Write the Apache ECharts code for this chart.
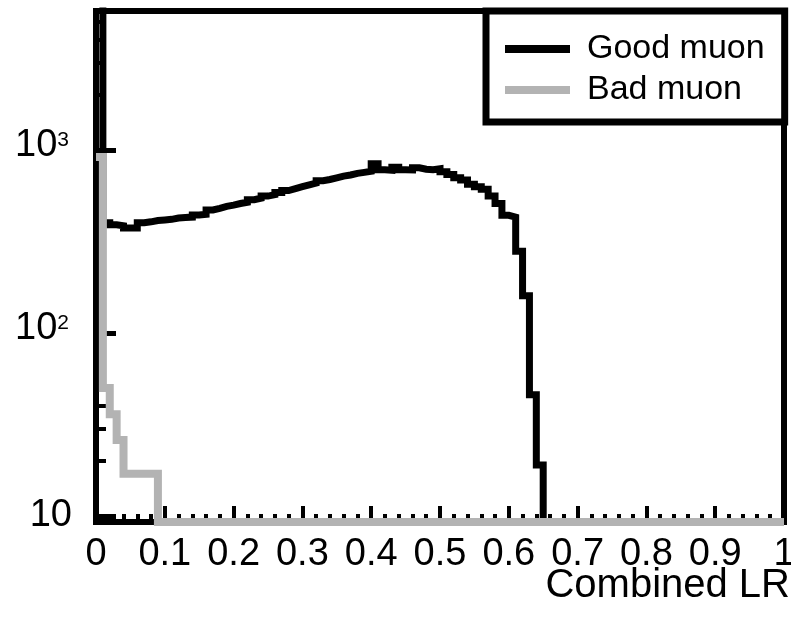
<!DOCTYPE html>
<html>
<head>
<meta charset="utf-8">
<script src="https://cdn.jsdelivr.net/npm/echarts@6/dist/echarts.min.js"></script>
<style>
  html, body { margin: 0; padding: 0; background: #fff; }
  #chart { width: 791px; height: 625px; }
</style>
</head>
<body>
<div id="chart"></div>
<script>
// Histogram binning of the combined likelihood ratio
const binWidth = 0.01;

// Counts per bin, starting at LR = 0
const goodMuon = [
  20000, 400, 390, 385, 375, 375, 400, 405, 412, 415,
  418, 425, 428, 430, 441, 445, 470, 480, 492, 500,
  510, 518, 535, 545, 560, 570, 585, 600, 615, 630,
  645, 660, 680, 690, 705, 720, 730, 745, 755, 765,
  840, 780, 775, 805, 780, 778, 800, 785, 780, 790,
  760, 735, 705, 685, 650, 630, 610, 560, 510, 440,
  430, 280, 160, 46, 19, 0, 0, 0, 0, 0,
  0, 0, 0, 0, 0, 0, 0, 0, 0, 0,
  0, 0, 0, 0, 0, 0, 0, 0, 0, 0,
  0, 0, 0, 0, 0, 0, 0, 0, 0, 0
];
const badMuon = [
  915, 50, 36, 26, 17, 17, 17, 17, 17, 0,
  0, 0, 0, 0, 0, 0, 0, 0, 0, 0,
  0, 0, 0, 0, 0, 0, 0, 0, 0, 0,
  0, 0, 0, 0, 0, 0, 0, 0, 0, 0,
  0, 0, 0, 0, 0, 0, 0, 0, 0, 0,
  0, 0, 0, 0, 0, 0, 0, 0, 0, 0,
  0, 0, 0, 0, 0, 0, 0, 0, 0, 0,
  0, 0, 0, 0, 0, 0, 0, 0, 0, 0,
  0, 0, 0, 0, 0, 0, 0, 0, 0, 0,
  0, 0, 0, 0, 0, 0, 0, 0, 0, 0
];

// Axis labels and tick positions
const xTickLabels = ['0', '0.1', '0.2', '0.3', '0.4', '0.5', '0.6', '0.7', '0.8', '0.9', '1'];
const yMajorTicks = [10, 100, 1000];
const yMinorTicks = [20, 30, 40, 50, 60, 70, 80, 90, 200, 300, 400, 500, 600, 700, 800, 900, 2000, 3000, 4000, 5000];
const yRange = [9.27, 5750];

const FONT = '"Liberation Sans", Arial, Helvetica, sans-serif';

// Outline of a histogram: each bin holds its value until the next edge.
// Empty bins sit on the lower edge of the log axis.
function outline(counts) {
  const pts = counts.map((v, i) => [+(i * binWidth).toFixed(4), Math.max(v, yRange[0])]);
  pts.push([+(counts.length * binWidth).toFixed(4), Math.max(counts[counts.length - 1], yRange[0])]);
  return pts;
}

const chart = echarts.init(document.getElementById('chart'), null, { renderer: 'canvas' });

chart.setOption({
  animation: false,
  backgroundColor: '#fff',
  grid: {
    left: 96, top: 11, right: 7, bottom: 103,
    outerBoundsMode: 'none', containLabel: false,
    show: true, borderColor: '#000', borderWidth: 6, backgroundColor: 'transparent'
  },
  legend: {
    orient: 'vertical',
    left: 486, top: 11,
    padding: [19, 20, 13, 19],
    backgroundColor: '#fff',
    borderColor: '#000', borderWidth: 7,
    itemWidth: 65, itemHeight: 8, itemGap: 3,
    icon: 'rect',
    selectedMode: false,
    textStyle: { fontFamily: FONT, fontSize: 34, lineHeight: 38, color: '#000', padding: [0, 0, 0, 12] },
    data: ['Good muon', 'Bad muon']
  },
  xAxis: {
    type: 'value', min: 0, max: 1, interval: 0.1,
    axisLine: { show: true, onZero: false, lineStyle: { color: '#000', width: 5 } },
    axisTick: { show: true, inside: true, length: 16, lineStyle: { color: '#000', width: 4 } },
    minorTick: { show: true, splitNumber: 5, length: 8, lineStyle: { color: '#000', width: 4 } },
    splitLine: { show: false },
    axisLabel: {
      margin: 14, color: '#000', fontFamily: FONT, fontSize: 38,
      formatter: v => xTickLabels[Math.round(v * 10)]
    },
    name: 'Combined LR',
    nameLocation: 'end', nameGap: 6, nameMoveOverlap: false,
    nameTextStyle: {
      fontFamily: FONT, fontSize: 40, color: '#000',
      align: 'right', verticalAlign: 'top', padding: [44, 0, 0, 0]
    }
  },
  yAxis: [
    {
      type: 'log', logBase: 10, min: yRange[0], max: yRange[1], position: 'left',
      axisLine: { show: true, lineStyle: { color: '#000', width: 5 } },
      axisTick: { show: true, inside: true, length: 20, customValues: yMajorTicks, lineStyle: { color: '#000', width: 5 } },
      minorTick: { show: false },
      splitLine: { show: false },
      axisLabel: {
        customValues: yMajorTicks,
        margin: 27, color: '#000', fontFamily: FONT,
        formatter: v => {
          const e = Math.round(Math.log10(v));
          return e === 1 ? '{b|10}' : '{u|10}{s|' + e + '}';
        },
        rich: {
          b: { fontFamily: FONT, fontSize: 38, lineHeight: 40, color: '#000', padding: [0, -3, 0, 0] },
          u: { fontFamily: FONT, fontSize: 38, lineHeight: 40, color: '#000', padding: [0, 0, 8, 0] },
          s: { fontFamily: FONT, fontSize: 21, lineHeight: 22, color: '#000', verticalAlign: 'top' }
        }
      }
    },
    {
      type: 'log', logBase: 10, min: yRange[0], max: yRange[1], position: 'left', offset: 0,
      axisLine: { show: false },
      axisTick: { show: true, inside: true, length: 10, customValues: yMinorTicks, lineStyle: { color: '#000', width: 4 } },
      axisLabel: { show: false },
      splitLine: { show: false }
    }
  ],
  series: [
    {
      name: 'Good muon', type: 'line', step: 'end', yAxisIndex: 0,
      data: outline(goodMuon), showSymbol: false, clip: true,
      color: '#000', lineStyle: { color: '#000', width: 7, join: 'miter' }, z: 3
    },
    {
      name: 'Bad muon', type: 'line', step: 'end', yAxisIndex: 0,
      data: outline(badMuon), showSymbol: false, clip: true,
      color: '#b3b3b3', lineStyle: { color: '#b3b3b3', width: 8, join: 'miter' }, z: 4
    }
  ]
});
</script>
</body>
</html>
